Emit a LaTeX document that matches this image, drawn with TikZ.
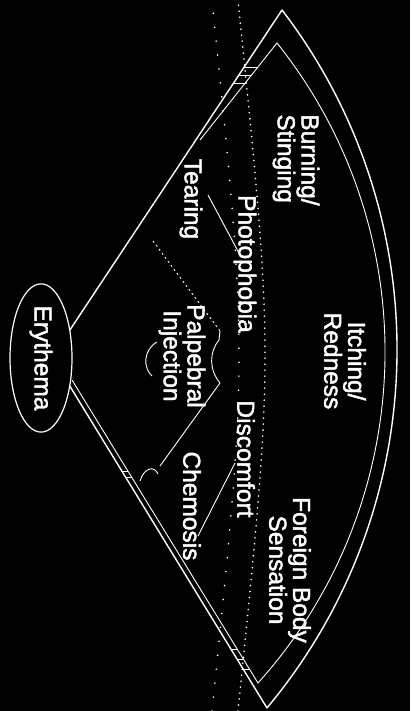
\documentclass[tikz,border=0pt]{standalone}
\usepackage{fontspec}
\usetikzlibrary{shapes.geometric}
\newfontfamily\lab[FakeBold=1.8]{Liberation Sans}
\begin{document}
\begin{tikzpicture}[x=1pt,y=1pt,
  edge/.style={white, line width=1.4pt, line join=round},
  thinline/.style={white, line width=0.9pt},
  tick/.style={white, line width=1pt},
  lbl/.style={text=white, font=\lab\fontsize{24.5}{22}\selectfont, rotate=-90, inner sep=0pt},
  dots/.style={white, line width=1.8pt, line cap=round, dash pattern=on 0pt off 6pt}]
\fill[black] (0,0) rectangle (410,711);
\useasboundingbox (0,0) rectangle (410,711);

% stippled band
\draw[dots] (238,0) .. controls (274,355.5) .. (238,711);
\draw[dots, dash pattern=on 0pt off 14pt] (212,0) .. controls (248,355.5) .. (212,711);

% outer sector
\coordinate (apex) at (52,354);
\coordinate (o1) at (282,701);
\draw[edge] (apex) -- (o1) arc[start angle=37.43, end angle=-39.9, radius=558.7] -- cycle;

% inner border
\coordinate (i1) at (277,668);
\coordinate (iu) at (200,571);
\coordinate (il) at (72,331);
\draw[thinline] (iu) -- (i1) arc[start angle=38.57, end angle=-41.97, radius=495.3] -- (il);

% ticks between the double lines
\draw[tick] (243.5,643) -- (257.8,643);
\draw[tick] (238.2,635) -- (251.6,635);
\draw[tick] (232.9,627) -- (245.5,627);
\draw[tick] (231.5,61) -- (237.7,61);
\draw[tick] (237.6,51) -- (243.9,51);
\draw[tick] (243.7,41) -- (250,41);
\draw[tick] (122.4,239) -- (128.4,239);
\draw[tick] (126.1,233) -- (132.1,233);

% inner dividers
\coordinate (t1) at (208,516); \coordinate (t2) at (240,456);
\coordinate (d1) at (235,248); \coordinate (d2) at (198,175);
\draw[thinline] (t1) -- (t2);
\draw[thinline] (d1) -- (d2);

% palpebral region
\coordinate (p1) at (153,470);
\coordinate (p2) at (220,380);
\coordinate (p3) at (220,328);
\coordinate (p4) at (160,245);
\draw[thinline, dash pattern=on 2pt off 3pt] (p1) -- (p2);
\draw[thinline] (p2) -- (219,371) .. controls (209,359) and (209,341) .. (p3);
\draw[thinline] (p3) -- (p4);
\draw[thinline] (140,230) .. controls (144,243) and (154,246) .. (158,237);
\draw[thinline] (157,369) .. controls (143,361) and (143,343) .. (152,335);

% labels
\node[lbl, ellipse, draw=white, fill=black, line width=1.2pt, minimum width=120pt, minimum height=62pt] (ery) at (41,353) {Erythema};
\node[lbl, align=left] (burn) at (296,551) {Burning/\\Stinging};
\node[lbl] (tear) at (191,512) {Tearing};
\node[lbl] (photo) at (245,447) {Photophobia};
\node[lbl, align=center] (itch) at (345,350) {Itching/\\Redness};
\node[lbl, align=center] (palp) at (182,355) {Palpebral\\Injection};
\node[lbl] (disc) at (246,252) {Discomfort};
\node[lbl] (chem) at (192,205) {Chemosis};
\node[lbl, align=center] (fbs) at (290,141) {Foreign Body\\Sensation};
\end{tikzpicture}
\end{document}
